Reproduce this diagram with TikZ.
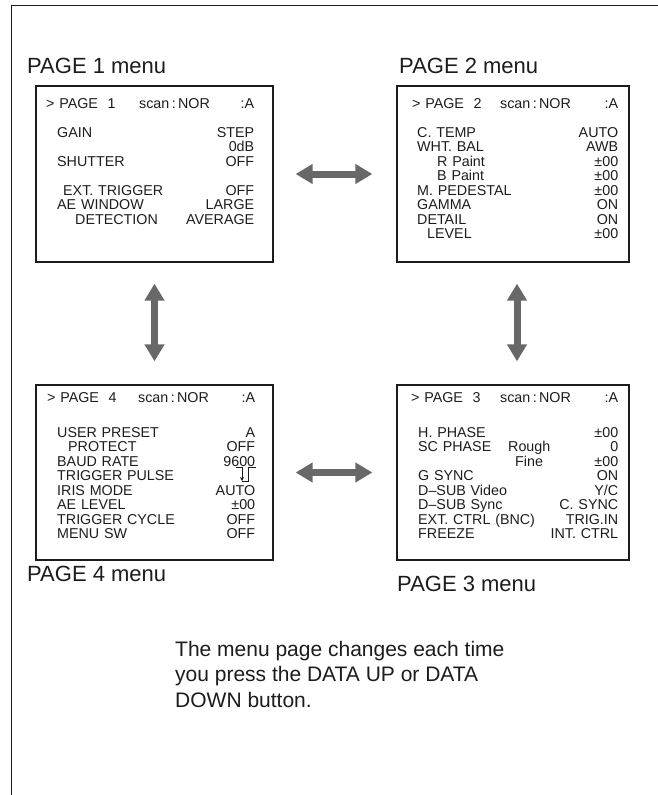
\documentclass[tikz,border=0pt]{standalone}
\usepackage{fontspec}
\setmainfont{Liberation Sans}
\usetikzlibrary{arrows.meta,positioning}
\definecolor{arrowgray}{RGB}{104,104,104}
\definecolor{inkgray}{RGB}{28,28,28}

\begin{document}
\begin{tikzpicture}[x=1pt,y=-1pt,
    menubox/.style={draw=inkgray, line width=1.3pt, minimum width=237pt, minimum height=176pt, inner sep=0pt},
    menutext/.style={anchor=north west, inner sep=0pt, text width=#1, align=left, text=inkgray, font=\fontsize{14.3}{14.5}\selectfont},
    pagelabel/.style={anchor=base west, inner sep=0pt, text=inkgray, font=\fontsize{22}{25}\selectfont},
    pagearrow/.style={line width=7pt, draw=arrowgray, {Triangle[width=19pt,length=17pt]}-{Triangle[width=19pt,length=17pt]}}]
    \useasboundingbox (0,0) rectangle (658,795);
    \draw[line width=1pt, inkgray] (11,795) -- (11,5) -- (658,5);

    \node[menubox] (p1) at (154.5,174) {};
    \node[menubox, minimum width=232pt] (p2) at (513,174) {};
    \node[menubox, minimum height=175pt] (p4) at (154.5,472.5) {};
    \node[menubox, minimum width=232pt, minimum height=175pt] (p3) at (513,472.5) {};

    \node[pagelabel] (l1) at (27,73) {PAGE 1 menu};
    \node[pagelabel] (l2) at (399,73) {PAGE 2 menu};
    \node[pagelabel] (l4) at (27,581) {PAGE 4 menu};
    \node[pagelabel] (l3) at (397,591) {PAGE 3 menu};

    \node[menutext=208pt] (t1) at (46,98) {\makebox[93pt][l]{> PAGE\ \ 1}scan\,:\,NOR\hfill:A\\[14.5pt]
        \hspace*{11pt}GAIN\hfill STEP\\
        \mbox{}\hfill 0dB\\
        \hspace*{11pt}SHUTTER\hfill OFF\\[14.5pt]
        \hspace*{17pt}EXT. TRIGGER\hfill OFF\\
        \hspace*{11pt}AE WINDOW\hfill LARGE\\
        \hspace*{29pt}DETECTION\hfill AVERAGE};
    \node[menutext=206pt] (t2) at (412,98) {\makebox[88pt][l]{> PAGE\ \ 2}scan\,:\,NOR\hfill:A\\[14.5pt]
        \hspace*{5pt}C. TEMP\hfill AUTO\\
        \hspace*{5pt}WHT. BAL\hfill AWB\\
        \hspace*{25pt}R Paint\hfill ±00\\
        \hspace*{25pt}B Paint\hfill ±00\\
        \hspace*{5pt}M. PEDESTAL\hfill ±00\\
        \hspace*{5pt}GAMMA\hfill ON\\
        \hspace*{5pt}DETAIL\hfill ON\\
        \hspace*{15pt}LEVEL\hfill ±00};
    \node[menutext=208pt] (t4) at (47,392) {\makebox[91pt][l]{> PAGE\ \ 4}scan\,:\,NOR\hfill:A\\[20.5pt]
        \hspace*{10pt}USER PRESET\hfill A\\
        \hspace*{21pt}PROTECT\hfill OFF\\
        \hspace*{10pt}BAUD RATE\hfill 9600\\
        \hspace*{10pt}TRIGGER PULSE\hfill\\
        \hspace*{10pt}IRIS MODE\hfill AUTO\\
        \hspace*{10pt}AE LEVEL\hfill ±00\\
        \hspace*{10pt}TRIGGER CYCLE\hfill OFF\\
        \hspace*{10pt}MENU SW\hfill OFF};
    \node[menutext=207pt] (t3) at (411,392) {\makebox[89pt][l]{> PAGE\ \ 3}scan\,:\,NOR\hfill:A\\[20.5pt]
        \hspace*{7pt}H. PHASE\hfill ±00\\
        \hspace*{7pt}\makebox[90pt][l]{SC PHASE}Rough\hfill 0\\
        \hspace*{104pt}Fine\hfill ±00\\
        \hspace*{7pt}G SYNC\hfill ON\\
        \hspace*{7pt}D–SUB Video\hfill Y/C\\
        \hspace*{7pt}D–SUB Sync\hfill C. SYNC\\
        \hspace*{7pt}EXT. CTRL (BNC)\hfill TRIG.IN\\
        \hspace*{7pt}FREEZE\hfill INT. CTRL};

    \draw[line width=0.9pt, inkgray] (236,467) -- (242,467);
    \draw[line width=0.9pt, inkgray, -{Stealth[length=4pt,width=4pt]}] (242,467) -- (242,481);
    \draw[line width=0.9pt, inkgray] (242,481) -- (248,481) -- (248,467) -- (256,467);

    \draw[pagearrow, shorten <=22pt, shorten >=24pt] (p1) -- (p2);
    \draw[pagearrow, shorten <=22pt, shorten >=24pt] (p4) -- (p3);
    \draw[pagearrow, shorten <=21pt, shorten >=23pt] (p1) -- (p4);
    \draw[pagearrow, shorten <=21pt, shorten >=23pt] ([xshift=4pt]p2.south) -- ([xshift=4pt]p3.north);

    \node[anchor=north west, inner sep=0pt, align=left, text=inkgray, font=\fontsize{21}{25.5}\selectfont] (note) at (175,641)
        {The menu page changes each time\\you press the DATA UP or DATA\\DOWN button.};
\end{tikzpicture}
\end{document}
